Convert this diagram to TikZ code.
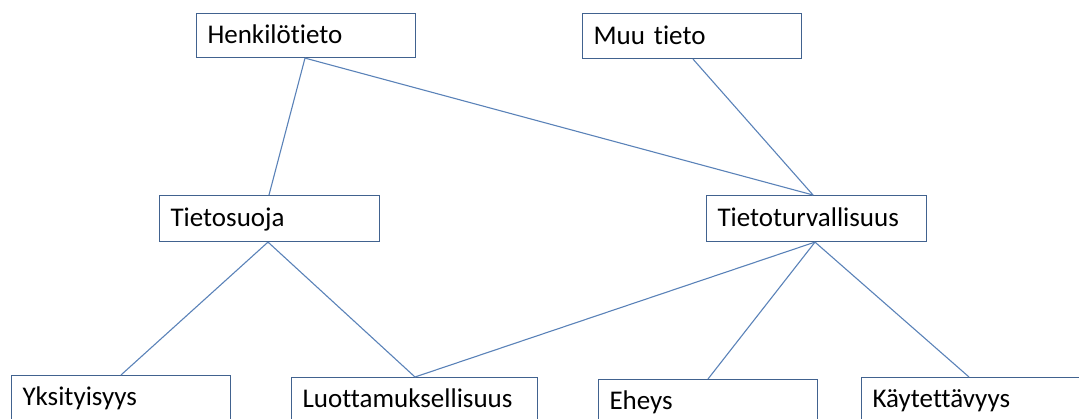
\documentclass[tikz,border=0pt]{standalone}
\usepackage{fontspec}
\setmainfont[Ligatures=NoCommon]{Carlito}
\definecolor{boxline}{HTML}{41628F}
\definecolor{conn}{HTML}{5A82B8}
\tikzset{
  x=1pt,y=1pt,
  box/.style={draw=boxline, line width=1.1pt, fill=white, rectangle, anchor=north west,
    font=\fontsize{27}{32}\selectfont, inner xsep=11pt, inner ysep=0pt,
    text height=20pt, text depth=4pt, align=left},
  lowbox/.style={box, minimum height=60pt, text depth=20pt},
  link/.style={draw=conn, line width=1.1pt}
}
\begin{document}
\begin{tikzpicture}
\useasboundingbox (0,0) rectangle (1079,-419);
% nodes
\node[box, text width=197pt, minimum height=44pt] (hen) at (196,-13) {Henkilötieto};
\node[box, text width=197pt, minimum height=45pt] (muu) at (582,-13) {Muu tieto};
\node[box, text width=198pt, minimum height=46pt] (suo) at (159,-195) {Tietosuoja};
\node[box, text width=198pt, minimum height=46pt] (tur) at (706,-195) {Tietoturvallisuus};
\node[lowbox, text width=197pt] (yks) at (11,-375) {Yksityisyys};
\node[lowbox, text width=224pt] (luo) at (291,-377) {Luottamuksellisuus};
\node[lowbox, text width=197pt] (ehe) at (598,-379) {Eheys};
\node[lowbox, text width=230pt] (kay) at (861,-377) {Käytettävyys};
% attachment points
\coordinate (henB) at ([xshift=109pt]hen.south west);
\coordinate (muuB) at ([xshift=111pt]muu.south west);
\coordinate (suoT) at ([xshift=110pt]suo.north west);
\coordinate (suoB) at ([xshift=109pt]suo.south west);
\coordinate (turT) at ([xshift=107pt]tur.north west);
\coordinate (turB) at ([xshift=109pt]tur.south west);
\coordinate (yksT) at ([xshift=110pt]yks.north west);
\coordinate (luoT) at ([xshift=124pt]luo.north west);
\coordinate (eheT) at ([xshift=110pt]ehe.north west);
\coordinate (kayT) at ([xshift=108pt]kay.north west);
% connectors
\draw[link] (henB) -- (suoT);
\draw[link] (henB) -- (turT);
\draw[link] (muuB) -- (turT);
\draw[link] (suoB) -- (yksT);
\draw[link] (suoB) -- (luoT);
\draw[link] (turB) -- (luoT);
\draw[link] (turB) -- (eheT);
\draw[link] (turB) -- (kayT);
\end{tikzpicture}
\end{document}
